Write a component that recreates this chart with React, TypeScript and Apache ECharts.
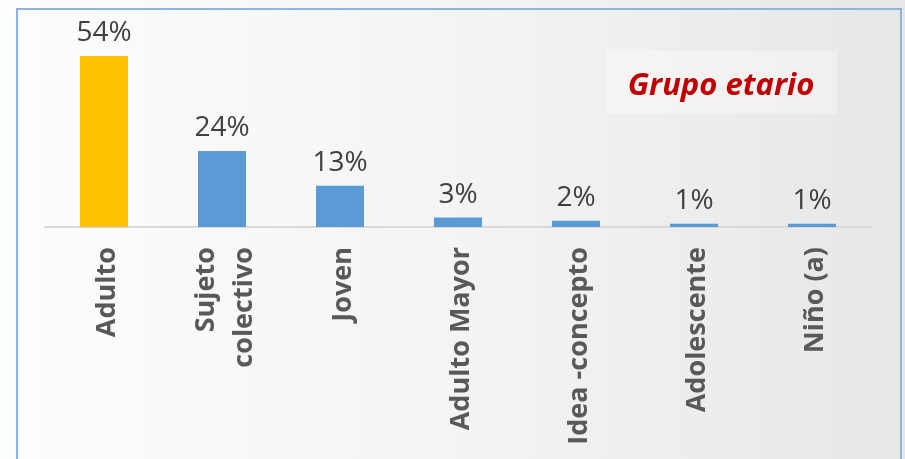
import React, { useEffect, useRef } from "react";
import * as echarts from "echarts";

const categories = ["Adulto", "Sujeto\ncolectivo", "Joven", "Adulto Mayor", "Idea -concepto", "Adolescente", "Niño (a)"];
const values = [54, 24, 13, 3, 2, 1, 1];
const barColors = ["#FFC000", "#5B9BD5", "#5B9BD5", "#5B9BD5", "#5B9BD5", "#5B9BD5", "#5B9BD5"];
const titleText = "Grupo etario";

export default function App() {
  const ref = useRef<HTMLDivElement>(null);
  useEffect(() => {
    if (!ref.current) return;
    const chart = echarts.init(ref.current, null, { renderer: "svg" });
    chart.setOption({
      animation: false,
      graphic: [
        {
          type: "rect",
          z: -10,
          shape: { x: 0, y: 0, width: 905, height: 459 },
          style: {
            fill: new echarts.graphic.LinearGradient(0, 0, 1, 0, [
              { offset: 0, color: "#fdfdfd" },
              { offset: 0.5, color: "#f4f4f4" },
              { offset: 1, color: "#e8e7e7" },
            ]),
          },
        },
        {
          type: "rect",
          z: -9,
          shape: { x: 606, y: 51, width: 231, height: 63 },
          style: { fill: "rgba(255,255,255,0.35)" },
        },
        {
          type: "rect",
          z: 10,
          shape: { x: 17, y: 9, width: 884, height: 470 },
          style: { fill: "none", stroke: "#8db4e2", lineWidth: 2 },
        },
        {
          type: "text",
          z: 11,
          x: 721,
          y: 83,
          style: {
            text: titleText,
            fill: "#C00000",
            font: "italic bold 31px 'Open Sans'",
            align: "center",
            verticalAlign: "middle",
          },
        },
      ],
      grid: { left: 45, right: 34, top: 37, bottom: 232 },
      xAxis: {
        type: "category",
        data: categories,
        axisTick: { show: false },
        axisLine: { lineStyle: { color: "#d9d9d9", width: 2 } },
        axisLabel: {
          rotate: 90,
          margin: 20,
          interval: 0,
          color: "#595959",
          fontFamily: "Open Sans",
          fontWeight: "bold",
          fontSize: 27,
          lineHeight: 38,
        },
      },
      yAxis: {
        type: "value",
        min: 0,
        max: 60,
        show: false,
        splitLine: { show: false },
      },
      series: [
        {
          type: "bar",
          data: values.map((v, i) => ({ value: v, itemStyle: { color: barColors[i] } })),
          barWidth: 48,
          label: {
            show: true,
            position: "top",
            distance: 12,
            formatter: "{c}%",
            color: "#404040",
            fontFamily: "Open Sans",
            fontSize: 28,
          },
        },
      ],
    });
    return () => chart.dispose();
  }, []);
  return <div ref={ref} style={{ position: "fixed", left: 0, top: 0, width: 905, height: 459 }} />;
}
